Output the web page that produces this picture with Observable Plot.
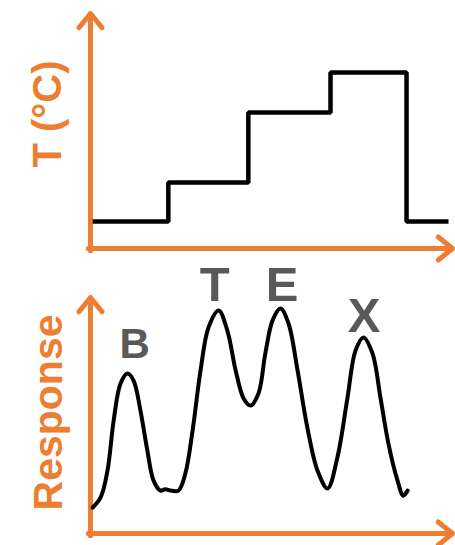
<!DOCTYPE html>
<html>
<head>
<meta charset="utf-8">
<script src="https://cdn.jsdelivr.net/npm/d3@7"></script>
<script src="https://cdn.jsdelivr.net/npm/@observablehq/plot@0.6"></script>
<style>
  body { margin: 0; background: #fff; }
  #chart { position: relative; width: 455px; height: 545px; overflow: hidden; }
  #top, #bottom { position: absolute; left: 0; }
  #top { top: 0; }
  #bottom { top: 270px; }
</style>
</head>
<body>
<div id="chart"><div id="top"></div><div id="bottom"></div></div>
<script>
// ---- Data (arbitrary units, 0–100 on each axis) ----
// Temperature program (step profile)
const stepTime = [0.6, 21.5, 43.6, 66.3, 87.3, 98.9];
const stepTemp = [11.5, 28.1, 57.9, 74.9, 11.5, 11.5];

// Detector response trace
const respTime = [0.6, 2.8, 4.7, 6.4, 8.3, 10.2, 11.9, 13.8, 15.7, 17.4, 19.3, 20.7, 22.1, 24.3, 26.2, 28.2, 30.4, 32.6, 35.4, 37.8, 40.1, 42.3, 44.2, 46.4, 48.3, 50.3, 52.5, 54.7, 57.2, 59.9, 62.7, 65.5, 68.2, 71.0, 73.2, 75.4, 77.9, 80.1, 82.3, 84.8, 86.4, 87.6];
const respValue = [11.0, 15.3, 26.7, 47.9, 63.6, 67.8, 64.8, 52.1, 35.2, 22.5, 18.2, 18.8, 18.2, 18.2, 25.4, 43.6, 69.1, 87.3, 94.5, 86.0, 69.1, 57.2, 54.2, 59.3, 76.3, 90.3, 95.3, 89.0, 69.1, 44.9, 26.7, 19.1, 32.2, 57.6, 77.5, 83.1, 76.3, 57.6, 38.1, 22.5, 16.0, 18.2];

// Peak labels
const peakLabels = ["B", "T", "E", "X"];
const peakLabelX = [12.2, 34.3, 52.9, 75.6];
const peakLabelY = [74.2, 98.7, 98.7, 85.2];

// Axis titles
const topAxisTitle = "T (°C)";
const bottomAxisTitle = "Response";

// ---- Styling ----
const ORANGE = "#ED7D31";
const LABEL_GRAY = "#595959";
const FONT = "Liberation Sans, Arial, Helvetica, sans-serif";

function axisArrows() {
  return [
    Plot.arrow([0], {x1: 0, y1: -1, x2: 0, y2: 100, stroke: ORANGE, strokeWidth: 5, headLength: 5.5, headAngle: 78}),
    Plot.arrow([0], {x1: -0.6, y1: 0, x2: 100, y2: 0, stroke: ORANGE, strokeWidth: 5, headLength: 5.5, headAngle: 78})
  ];
}

const stepData = stepTime.map((t, i) => ({t, v: stepTemp[i]}));
const respData = respTime.map((t, i) => ({t, v: respValue[i]}));
const labelData = peakLabels.map((s, i) => ({s, x: peakLabelX[i], y: peakLabelY[i], i}));

const topPlot = Plot.plot({
  width: 455,
  height: 270,
  marginLeft: 90,
  marginRight: 3,
  marginTop: 13,
  marginBottom: 22,
  x: {domain: [0, 100], axis: null},
  y: {domain: [0, 100], axis: null},
  style: {background: "transparent", overflow: "visible"},
  marks: [
    ...axisArrows(),
    Plot.line(stepData, {x: "t", y: "v", curve: "step-after", stroke: "black", strokeWidth: 4.5, strokeLinejoin: "miter", strokeLinecap: "butt"}),
    Plot.text([topAxisTitle], {text: d => d, frameAnchor: "left", textAnchor: "middle", dx: -42, dy: -17, rotate: -90, fill: ORANGE, fontSize: 40, fontWeight: "bold", fontFamily: FONT, lineAnchor: "middle"})
  ]
});

const bottomPlot = Plot.plot({
  width: 455,
  height: 275,
  marginLeft: 90,
  marginRight: 3,
  marginTop: 27,
  marginBottom: 12,
  x: {domain: [0, 100], axis: null},
  y: {domain: [0, 100], axis: null},
  style: {background: "transparent", overflow: "visible"},
  marks: [
    ...axisArrows(),
    Plot.line(respData, {x: "t", y: "v", curve: "catmull-rom", stroke: "black", strokeWidth: 4, strokeLinejoin: "round", strokeLinecap: "round"}),
    Plot.text(labelData.filter(d => d.i === 0), {x: "x", y: "y", text: "s", fill: LABEL_GRAY, fontSize: 42, fontWeight: "bold", fontFamily: FONT, lineAnchor: "bottom"}),
    Plot.text(labelData.filter(d => d.i > 0), {x: "x", y: "y", text: "s", fill: LABEL_GRAY, fontSize: 49, fontWeight: "bold", fontFamily: FONT, lineAnchor: "bottom"}),
    Plot.text([bottomAxisTitle], {text: d => d, frameAnchor: "left", textAnchor: "middle", dx: -42, dy: -3, rotate: -90, fill: ORANGE, fontSize: 41, fontWeight: "bold", fontFamily: FONT, lineAnchor: "middle"})
  ]
});

document.getElementById("top").appendChild(topPlot);
document.getElementById("bottom").appendChild(bottomPlot);
</script>
</body>
</html>
